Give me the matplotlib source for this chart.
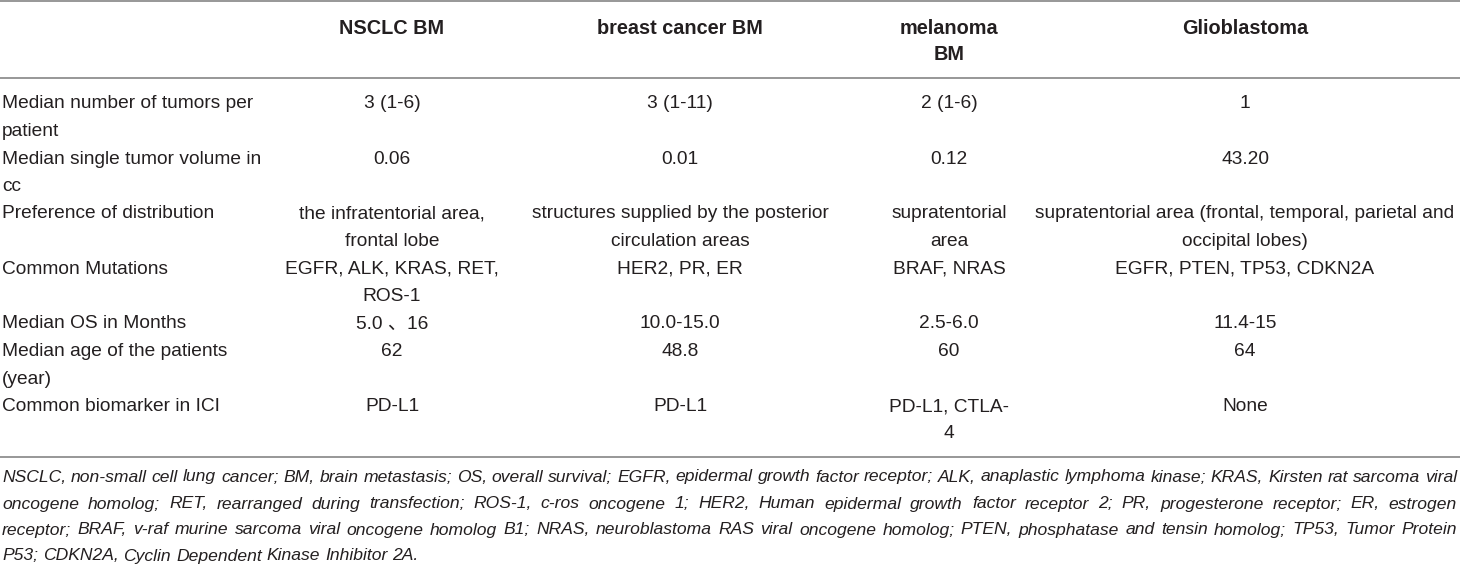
import matplotlib
matplotlib.use("Agg")
import matplotlib.pyplot as plt

# table content (wrapped as in the original)
col_headers = ["NSCLC BM", "breast cancer BM", "melanoma\nBM", "Glioblastoma"]
row_labels = [
    "Median number of tumors per\npatient",
    "Median single tumor volume in\ncc",
    "Preference of distribution",
    "Common Mutations",
    "Median OS in Months",
    "Median age of the patients\n(year)",
    "Common biomarker in ICI",
]
nsclc = ["3 (1-6)", "0.06", "the infratentorial area,\nfrontal lobe",
         "EGFR, ALK, KRAS, RET,\nROS-1", "5.0 \u300116", "62", "PD-L1"]
breast = ["3 (1-11)", "0.01", "structures supplied by the posterior\ncirculation areas",
          "HER2, PR, ER", "10.0-15.0", "48.8", "PD-L1"]
melanoma = ["2 (1-6)", "0.12", "supratentorial\narea", "BRAF, NRAS",
            "2.5-6.0", "60", "PD-L1, CTLA-\n4"]
glioblastoma = ["1", "43.20",
                "supratentorial area (frontal, temporal, parietal and\noccipital lobes)",
                "EGFR, PTEN, TP53, CDKN2A", "11.4-15", "64", "None"]
footnote_lines = [
    "NSCLC, non-small cell lung cancer; BM, brain metastasis; OS, overall survival; EGFR, epidermal growth factor receptor; ALK, anaplastic lymphoma kinase; KRAS, Kirsten rat sarcoma viral",
    "oncogene homolog; RET, rearranged during transfection; ROS-1, c-ros oncogene 1; HER2, Human epidermal growth factor receptor 2; PR, progesterone receptor; ER, estrogen",
    "receptor; BRAF, v-raf murine sarcoma viral oncogene homolog B1; NRAS, neuroblastoma RAS viral oncogene homolog; PTEN, phosphatase and tensin homolog; TP53, Tumor Protein",
    "P53; CDKN2A, Cyclin Dependent Kinase Inhibitor 2A.",
]

W, H = 1460, 566
FAMILY = ["Liberation Sans", "Noto Sans CJK SC", "DejaVu Sans"]
TXT = "#231f20"
RULE = "#8f8f8f"
FS = 13.8
FS_HEAD = 14.3

fig = plt.figure(figsize=(W / 100, H / 100), dpi=100)
ax = fig.add_axes([0, 0, 1, 1])
ax.set_xlim(0, W)
ax.set_ylim(H, 0)
ax.axis("off")
renderer = fig.canvas.get_renderer()

label_x = 2
right_x = W - 3
col_x = [392, 680, 949, 1245]
line_h = 27.5
first_line_y = 104

# rules
for y in (1, 78, 457):
    ax.plot([0, W], [y, y], color=RULE, lw=1.3, solid_capstyle="butt")

# header
for x, h in zip(col_x, col_headers):
    for i, part in enumerate(h.split("\n")):
        ax.text(x, 28 + i * 26, part, ha="center", va="center", fontsize=FS_HEAD,
                fontweight="bold", family=FAMILY, color=TXT)

# body
columns = [nsclc, breast, melanoma, glioblastoma]
k = 0
for r, label in enumerate(row_labels):
    cells = [label] + [c[r] for c in columns]
    xs = [label_x] + col_x
    has = ["left"] + ["center"] * 4
    n = max(len(c.split("\n")) for c in cells)
    for cell, x, ha in zip(cells, xs, has):
        for i, part in enumerate(cell.split("\n")):
            ax.text(x, first_line_y + (k + i) * line_h, part, ha=ha, va="center",
                    fontsize=FS, family=FAMILY, color=TXT)
    k += n


def text_w(s, fs):
    t = ax.text(0, 0, s, fontsize=fs, style="italic", family=FAMILY)
    w = t.get_window_extent(renderer).width
    t.remove()
    return w


# footnote: size chosen so the first (tight) line just fills the width
fs_note = 10 * (right_x - label_x) / text_w(footnote_lines[0], 10)
space_w = text_w("a a", fs_note) - text_w("aa", fs_note)

foot_y = [477, 504, 530, 556]
for j, (line, y) in enumerate(zip(footnote_lines, foot_y)):
    words = line.split(" ")
    texts = [ax.text(0, y, w, ha="left", va="center", fontsize=fs_note, style="italic",
                     family=FAMILY, color=TXT) for w in words]
    widths = [t.get_window_extent(renderer).width for t in texts]
    if j < len(footnote_lines) - 1:
        gap = (right_x - label_x - sum(widths)) / (len(words) - 1)
    else:
        gap = space_w
    x = label_x
    for t, w in zip(texts, widths):
        t.set_x(x)
        x += w + gap

fig.savefig("out.png", dpi=100)
